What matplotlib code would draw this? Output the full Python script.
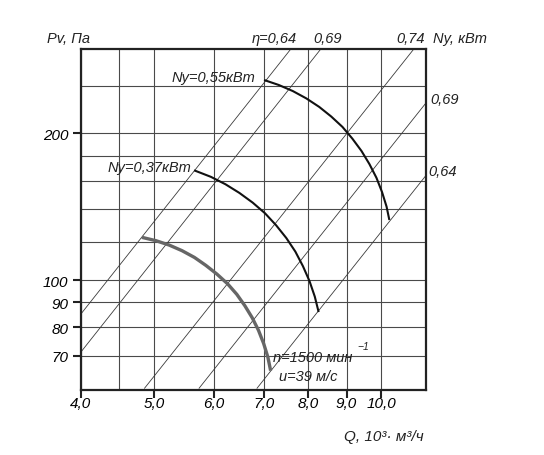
import matplotlib
matplotlib.use('Agg')
import matplotlib.pyplot as plt
from matplotlib.ticker import FixedLocator, NullFormatter

plt.rcParams['font.family'] = ['Liberation Sans', 'DejaVu Sans']
plt.rcParams['font.style'] = 'italic'

# axes values
q_ticks = [4.0, 5.0, 6.0, 7.0, 8.0, 9.0, 10.0]
q_tick_labels = ['4,0', '5,0', '6,0', '7,0', '8,0', '9,0', '10,0']
q_grid_extra = [4.5]
p_ticks = [70, 80, 90, 100, 200]
p_tick_labels = ['70', '80', '90', '100', '200']
p_grid_extra = [120, 140, 160, 180, 250]

# fan curves (Q in 10^3 m3/h, Pv in Pa)
q_gray = [4.82, 5.03, 5.24, 5.45, 5.66, 5.86, 6.06, 6.26, 6.44, 6.60, 6.75, 6.88, 6.99, 7.08, 7.14]
p_gray = [122.4, 120.5, 118.0, 114.9, 111.3, 107.2, 102.9, 98.3, 93.5, 88.6, 83.7, 78.9, 74.1, 69.5, 65.2]
q_037 = [5.67, 5.95, 6.22, 6.49, 6.76, 7.02, 7.26, 7.49, 7.70, 7.88, 8.04, 8.17, 8.26]
p_037 = [167.7, 162.9, 157.3, 151.0, 144.2, 137.1, 129.6, 122.0, 114.4, 106.8, 99.5, 92.5, 86.4]
q_055 = [7.02, 7.32, 7.64, 7.96, 8.28, 8.59, 8.89, 9.16, 9.42, 9.65, 9.86, 10.03, 10.17, 10.25]
p_055 = [257.0, 251.4, 244.3, 236.0, 226.7, 216.6, 206.2, 195.2, 184.1, 173.1, 162.2, 151.6, 141.5, 133.5]

# efficiency lines, end points
eta_q = [(4.0, 7.62), (4.0, 8.35), (4.86, 11.09), (5.74, 11.47), (6.85, 11.47)]
eta_p = [(85.1, 300), (71.1, 300), (60, 300), (60, 231), (60, 164)]

W, H = 544, 456
fig = plt.figure(figsize=(W / 100, H / 100), dpi=100)
ax = fig.add_axes([80.7 / W, 1 - 391 / H, 345.3 / W, 341 / H])
ax.set_xscale('log')
ax.set_yscale('log')
ax.set_xlim(4.0, 11.47)
ax.set_ylim(59.5, 298)

ax.xaxis.set_major_locator(FixedLocator(q_ticks))
ax.set_xticklabels(q_tick_labels)
ax.xaxis.set_minor_locator(FixedLocator(q_grid_extra))
ax.xaxis.set_minor_formatter(NullFormatter())
ax.yaxis.set_major_locator(FixedLocator(p_ticks))
ax.set_yticklabels(p_tick_labels)
ax.yaxis.set_minor_locator(FixedLocator(p_grid_extra))
ax.yaxis.set_minor_formatter(NullFormatter())

ax.tick_params(which='major', direction='out', length=6, width=1.5, labelsize=11, color='#222222')
ax.tick_params(axis='x', which='major', pad=-2)
ax.tick_params(axis='y', which='major', pad=3)
ax.tick_params(which='minor', length=0)
ax.grid(True, which='both', color='#4a4a4a', lw=0.8)
ax.set_axisbelow(True)
for s in ax.spines.values():
    s.set_linewidth(1.6)
    s.set_color('#222222')

for qs, ps in zip(eta_q, eta_p):
    ax.plot(qs, ps, color='#3a3a3a', lw=0.6)

ax.plot(q_gray, p_gray, color='#666666', lw=2.4, solid_capstyle='butt', solid_joinstyle='round')
ax.plot(q_037, p_037, color='#111111', lw=1.5, solid_joinstyle='round')
ax.plot(q_055, p_055, color='#111111', lw=1.5, solid_joinstyle='round')

def ftext(x, y, s, ha='center', size=10.5):
    fig.text(x / W, 1 - y / H, s, ha=ha, va='center', fontsize=size, color='#222222')

ftext(68.5, 39, 'Pv, Па')
ftext(274, 39, 'η=0,64')
ftext(328, 39, '0,69')
ftext(410.5, 39, '0,74')
ftext(460, 39, 'Ny, кВт')
ftext(444.5, 100, '0,69')
ftext(443, 172, '0,64')
ftext(213.5, 78, 'Ny=0,55кВт')
ftext(149.5, 168, 'Ny=0,37кВт')
ftext(312.5, 358, 'n=1500 мин')
ftext(357, 347, '−1', ha='left', size=7.5)
ftext(308.5, 377, 'u=39 м/с')
ftext(384, 437, 'Q, 10³· м³/ч', size=11)

fig.savefig('out.png', dpi=100)
